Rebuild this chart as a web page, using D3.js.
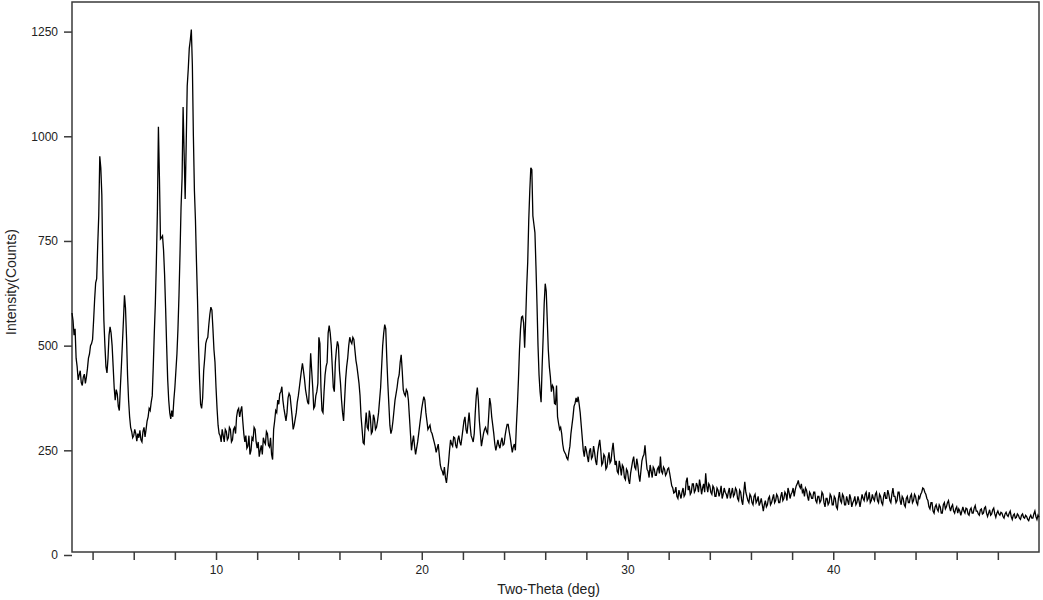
<!DOCTYPE html>
<html>
<head>
<meta charset="utf-8">
<script src="https://cdn.jsdelivr.net/npm/d3@7"></script>
<style>
  html, body { margin: 0; padding: 0; background: #fff; }
  svg { display: block; font-family: "Liberation Sans", Arial, sans-serif; }
</style>
</head>
<body>
<svg id="chart" width="1043" height="600"></svg>
<script>
// ---- data ----
const twoThetaStart = 3.0;   // deg
const twoThetaStep = 0.05;   // deg
// one row per degree (20 readings), from 3.00 to 50.00 deg
const intensity = [
  578,560,525,540,470,450,418,430,440,412,405,425,432,410,425,445,470,480,500,505,
  515,560,610,650,660,740,810,952,925,860,680,560,500,450,435,470,525,545,530,500,
  450,400,370,395,385,355,345,400,450,505,560,620,590,520,430,370,330,305,295,280,
  285,300,290,272,290,280,298,275,270,295,305,282,300,320,330,350,345,365,380,450,
  530,600,700,820,1023,900,755,758,762,728,670,590,500,420,370,340,325,345,330,370,
  400,440,480,540,620,720,830,900,1070,960,850,980,1120,1160,1210,1230,1255,1170,1000,870,
  800,700,610,500,420,360,350,375,440,470,505,515,520,550,575,592,585,540,490,460,
  400,350,310,290,285,270,300,285,270,300,295,275,280,305,300,270,275,300,305,290,
  330,345,350,330,345,355,320,290,270,285,255,260,285,240,250,280,275,305,300,270,
  255,270,235,250,262,240,280,270,265,295,290,262,258,280,240,228,300,320,345,340,
  370,360,385,390,402,370,350,335,320,340,375,386,380,355,330,300,310,325,340,365,
  380,400,420,440,458,440,420,395,380,365,360,420,482,440,400,350,355,380,390,410,
  520,505,400,345,340,390,430,450,460,530,548,530,500,450,400,390,460,490,510,500,
  440,410,370,340,320,370,420,450,470,500,520,510,505,520,515,490,465,450,430,410,
  380,330,300,268,265,310,340,305,300,345,330,290,295,335,325,300,305,320,340,370,
  400,450,500,530,550,540,470,410,360,310,290,300,320,345,370,385,400,420,430,460,
  478,440,395,385,380,395,390,370,330,290,250,270,285,260,240,255,270,290,310,330,
  350,365,378,370,340,320,300,305,310,295,290,280,270,260,245,255,265,240,215,205,
  200,190,210,185,172,195,220,250,275,265,260,282,280,262,255,275,285,270,262,280,
  300,320,330,300,290,315,340,310,285,278,270,290,340,380,400,370,320,290,260,275,
  290,300,305,295,290,330,375,360,330,310,290,265,250,262,275,262,255,270,280,262,
  265,285,300,312,312,295,280,262,245,258,265,250,310,360,420,490,540,568,570,555,
  495,560,640,700,800,870,925,920,810,790,770,690,600,500,430,390,365,450,520,600,
  648,630,560,490,450,426,390,405,400,362,360,405,330,314,300,305,290,265,250,245,
  240,232,228,245,260,290,310,330,355,362,375,365,378,360,340,310,280,250,235,260,
  250,235,222,248,255,230,235,260,245,225,215,245,262,275,250,215,220,240,235,205,
  210,230,245,220,225,250,268,240,215,225,200,195,225,210,190,215,210,185,180,205,
  200,180,170,195,210,225,235,210,205,230,215,190,175,200,225,235,240,262,230,205,
  200,185,215,200,185,210,205,190,190,205,210,195,235,200,195,210,205,190,195,205,
  208,195,180,165,160,148,150,162,140,135,155,145,135,150,160,140,145,175,185,155,
  165,145,150,170,170,150,155,172,165,150,180,165,145,160,170,150,195,165,150,170,
  165,150,145,165,160,140,140,160,155,140,150,165,135,145,160,150,145,135,150,160,
  135,148,160,140,145,160,155,135,130,155,150,130,120,150,175,150,140,130,125,145,
  140,125,120,140,145,125,130,140,118,125,135,120,105,120,130,115,120,135,140,120,
  125,135,145,125,130,145,140,125,125,140,150,130,135,150,145,130,160,150,135,145,
  150,160,140,155,165,170,178,165,160,170,150,155,140,160,155,140,130,150,145,135,
  135,150,150,130,125,140,140,125,130,150,145,125,115,135,135,120,125,145,140,120,
  120,140,135,115,110,135,150,130,125,145,140,120,120,140,130,120,145,135,115,125,
  130,140,120,125,140,130,115,130,145,135,130,145,150,130,135,150,125,130,145,135,
  130,145,150,130,125,145,140,125,120,140,150,135,135,155,145,130,125,145,160,140,
  140,125,130,150,150,130,120,140,135,120,115,135,140,125,125,140,145,125,130,145,
  140,125,120,140,135,145,150,160,158,150,145,135,130,115,110,125,125,105,100,115,
  120,110,105,120,115,100,100,120,125,110,115,125,130,115,105,115,120,105,100,110,
  115,100,110,105,95,105,115,105,100,112,110,98,95,108,112,100,100,112,118,105,
  105,98,95,108,110,98,100,112,115,100,92,100,108,95,98,108,112,98,90,100,
  105,98,95,102,100,92,88,98,102,95,92,100,105,92,85,95,98,88,90,98,
  95,88,85,95,98,90,88,95,92,85,82,90,95,88,88,98,105,92,85,95,
  90
];
const xDomain = [3, 50];
const yDomain = [0, 1250];
const yTicks = [0, 250, 500, 750, 1000, 1250];
const xMinorTicks = d3.range(4, 50, 2);
const xLabelTicks = [10, 20, 30, 40];
const xTitle = "Two-Theta (deg)";
const yTitle = "Intensity(Counts)";

(function () {
const data = intensity.map((v, i) => ({ x: twoThetaStart + i * twoThetaStep, y: v }));

// ---- layout ----
const pl = 72, pr = 1039, pt = 2, pb = 552;
const svg = d3.select("#chart");

const x = d3.scaleLinear().domain(xDomain).range([pl, pr]);
const y = d3.scaleLinear().domain(yDomain).range([555, 31.6]);

// frame
svg.append("rect")
  .attr("x", pl).attr("y", pt)
  .attr("width", pr - pl).attr("height", pb - pt)
  .attr("fill", "none").attr("stroke", "#3a3a3a").attr("stroke-width", 1.5);

// y axis ticks
const yAxis = d3.axisLeft(y).tickValues(yTicks).tickSize(8).tickPadding(6).tickFormat(d3.format("d"));
const gy = svg.append("g").attr("transform", `translate(${pl},0)`).call(yAxis);
gy.select(".domain").remove();
gy.selectAll(".tick line").attr("stroke", "#3a3a3a").attr("stroke-width", 1.5);
gy.selectAll(".tick text").attr("font-size", 12).attr("fill", "#222")
  .attr("font-family", '"Liberation Sans", Arial, sans-serif');

// x axis ticks
const xAxis = d3.axisBottom(x).tickValues(xMinorTicks).tickSize(8).tickPadding(5)
  .tickFormat(d => xLabelTicks.includes(d) ? String(d) : "");
const gx = svg.append("g").attr("transform", `translate(0,${pb})`).call(xAxis);
gx.select(".domain").remove();
gx.selectAll(".tick line").attr("stroke", "#3a3a3a").attr("stroke-width", 1.5);
gx.selectAll(".tick text").attr("font-size", 12).attr("fill", "#222")
  .attr("font-family", '"Liberation Sans", Arial, sans-serif');

// titles
svg.append("text")
  .attr("x", (pl + pr) / 2 - 7).attr("y", 594)
  .attr("text-anchor", "middle").attr("font-size", 14).attr("fill", "#222")
  .text(xTitle);
svg.append("text")
  .attr("transform", "translate(16,282) rotate(-90)")
  .attr("text-anchor", "middle").attr("font-size", 14).attr("fill", "#222")
  .text(yTitle);

// pattern line
const line = d3.line().x(d => x(d.x)).y(d => y(d.y));
svg.append("path")
  .datum(data)
  .attr("d", line)
  .attr("fill", "none")
  .attr("stroke", "#000")
  .attr("stroke-width", 1.3)
  .attr("stroke-linejoin", "miter");
})();
</script>
</body>
</html>
